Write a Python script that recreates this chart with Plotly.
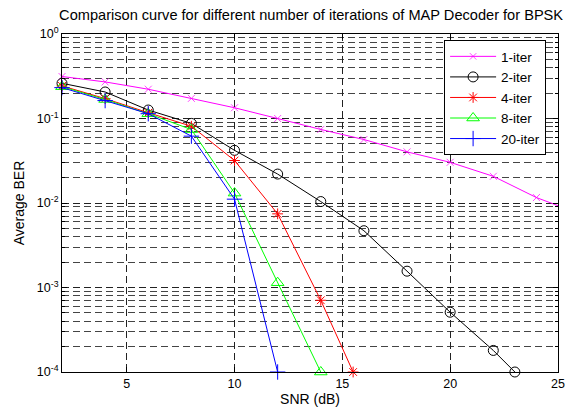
import plotly.graph_objects as go

# ---- data ----
snr_1 = [2, 4, 6, 8, 10, 12, 14, 16, 18, 20, 22, 24, 25]
ber_1 = [0.314, 0.271, 0.222, 0.173, 0.134, 0.100, 0.0742, 0.0564, 0.0403, 0.0303, 0.0207, 0.0116, 0.0093]

snr_2 = [2, 4, 6, 8, 10, 12, 14, 16, 18, 20, 22, 23]
ber_2 = [0.261, 0.206, 0.126, 0.0875, 0.042, 0.022, 0.0104, 0.0047, 0.00156, 0.00051, 0.00018, 0.0001]

snr_4 = [2, 4, 6, 8, 10, 12, 14, 15.5]
ber_4 = [0.243, 0.172, 0.117, 0.081, 0.0318, 0.00744, 0.000706, 0.0001]

snr_8 = [2, 4, 6, 8, 10, 12, 14]
ber_8 = [0.238, 0.168, 0.114, 0.074, 0.0131, 0.00114, 0.0001]

snr_20 = [2, 4, 6, 8, 10, 12]
ber_20 = [0.232, 0.163, 0.114, 0.0618, 0.0111, 0.0001]

names = ["1-iter", "2-iter", "4-iter", "8-iter", "20-iter"]
y_tick_vals = [1e-4, 1e-3, 1e-2, 1e-1, 1]
y_tick_text = ["10<sup>-4</sup>", "10<sup>-3</sup>", "10<sup>-2</sup>", "10<sup>-1</sup>", "10<sup>0</sup>"]
x_tick_vals = [5, 10, 15, 20, 25]
minor_vals = [m * 10 ** e for e in range(-4, 0) for m in range(2, 10)]

FONT = "Liberation Sans, Arial, sans-serif"

fig = go.Figure()

fig.add_trace(go.Scatter(
    x=snr_1, y=ber_1, name=names[0], mode="lines+markers",
    line=dict(color="#FF00FF", width=1),
    marker=dict(symbol="x-thin-open", size=[7] * (len(snr_1) - 1) + [0],
                color="#FF00FF", line=dict(color="#FF00FF", width=1)),
    cliponaxis=False))
fig.add_trace(go.Scatter(
    x=snr_2, y=ber_2, name=names[1], mode="lines+markers",
    line=dict(color="#000000", width=1),
    marker=dict(symbol="circle-open", size=10, color="#000000",
                line=dict(color="#000000", width=1)),
    cliponaxis=False))
fig.add_trace(go.Scatter(
    x=snr_4, y=ber_4, name=names[2], mode="lines+markers",
    line=dict(color="#FF0000", width=1),
    marker=dict(symbol="asterisk-open", size=9, color="#FF0000",
                line=dict(color="#FF0000", width=1)),
    cliponaxis=False))
fig.add_trace(go.Scatter(
    x=snr_8, y=ber_8, name=names[3], mode="lines+markers",
    line=dict(color="#00FF00", width=1),
    marker=dict(symbol="triangle-up-open", size=11, color="#00FF00",
                line=dict(color="#00FF00", width=1)),
    cliponaxis=False))
fig.add_trace(go.Scatter(
    x=snr_20, y=ber_20, name=names[4], mode="lines+markers",
    line=dict(color="#0000FF", width=1),
    marker=dict(symbol="cross-thin-open", size=11, color="#0000FF",
                line=dict(color="#0000FF", width=1)),
    cliponaxis=False))

fig.update_layout(
    width=574, height=411,
    paper_bgcolor="white", plot_bgcolor="white",
    margin=dict(l=62, r=9, t=34, b=39),
    font=dict(family=FONT, size=12, color="black"),
    title=dict(text="Comparison curve for different number of iterations of MAP Decoder for BPSK",
               x=0.542, xanchor="center", y=0.963, yanchor="middle", yref="container",
               font=dict(family=FONT, size=14.6, color="black")),
    showlegend=True,
    legend=dict(x=0.976, xanchor="right", y=0.982, yanchor="top",
                bgcolor="white", bordercolor="black", borderwidth=1,
                font=dict(family=FONT, size=13.5, color="black"),
                tracegroupgap=0, itemwidth=46),
    xaxis=dict(
        range=[2, 25], tickvals=x_tick_vals, ticks="inside", ticklen=5,
        tickcolor="black", showline=True, linecolor="black", linewidth=1,
        mirror="allticks", showgrid=True, gridcolor="#222222", griddash="7px,4px",
        gridwidth=1, zeroline=False, ticklabeloverflow="allow",
        tickfont=dict(family=FONT, size=12.5),
        title=dict(text="SNR (dB)", font=dict(family=FONT, size=14), standoff=1)),
    yaxis=dict(
        type="log", range=[-4, 0], tickvals=y_tick_vals, ticktext=y_tick_text,
        ticks="inside", ticklen=5, tickcolor="black", showline=True,
        linecolor="black", linewidth=1, mirror="allticks",
        showgrid=True, gridcolor="#222222", griddash="7px,4px", gridwidth=1,
        zeroline=False, ticklabeloverflow="allow",
        tickfont=dict(family=FONT, size=12.5),
        minor=dict(tickvals=minor_vals, ticks="inside", ticklen=3, tickcolor="black",
                   showgrid=True, gridcolor="#444444", griddash="7px,4px", gridwidth=1),
        title=dict(text="Average BER", font=dict(family=FONT, size=14), standoff=8)),
)

fig.write_html("out.html",
               config={"displayModeBar": False},
               post_script="document.body.style.margin='0';document.body.style.overflow='hidden';")
